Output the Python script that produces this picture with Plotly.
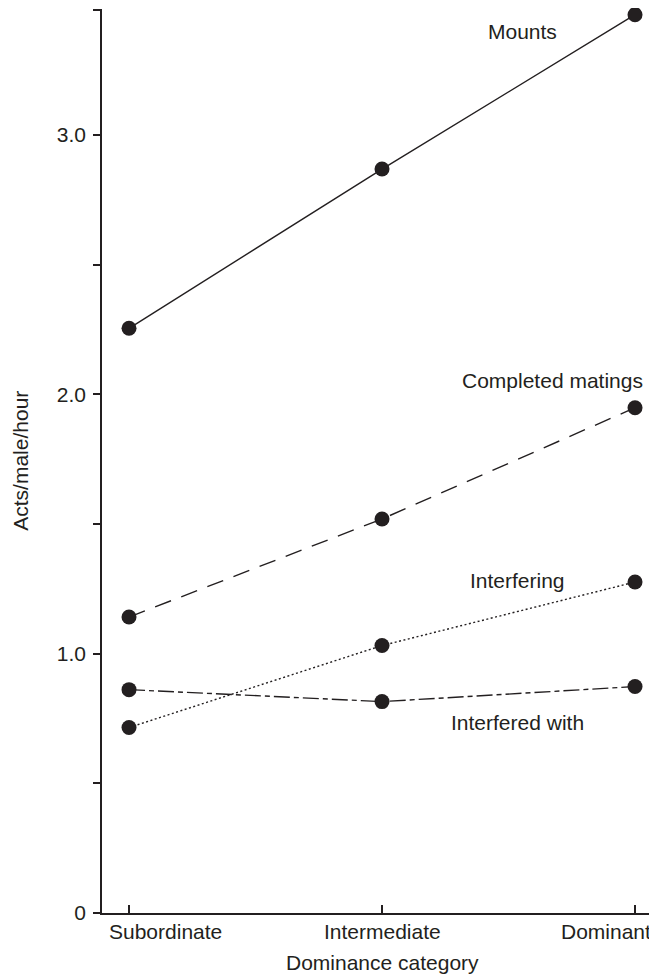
import plotly.graph_objects as go

categories = ["Subordinate", "Intermediate", "Dominant"]
mounts = [2.254, 2.868, 3.463]
completed = [1.141, 1.519, 1.948]
interfering = [0.715, 1.031, 1.276]
interfered_with = [0.861, 0.815, 0.873]

series_names = ["Mounts", "Completed matings", "Interfering", "Interfered with"]
series_values = [mounts, completed, interfering, interfered_with]
series_dash = ["solid", "17px,11px", "2px,2.5px", "16px,4px,5px,4px"]
label_x = [1.411, 1.308, 1.338, 1.266]
label_y = [3.397, 2.052, 1.282, 0.736]

ytick_vals = [0, 0.5, 1.0, 1.5, 2.0, 2.5, 3.0, 3.48]
ytick_text = ["0", "", "1.0", "", "2.0", "", "3.0", ""]

ink = "#231f20"
font = "Liberation Sans, Arial, sans-serif"
xpos = list(range(len(categories)))

fig = go.Figure()
for name, vals, dash in zip(series_names, series_values, series_dash):
    fig.add_trace(go.Scatter(
        x=xpos, y=vals, mode="lines+markers", name=name,
        line=dict(color=ink, width=1.4, dash=dash),
        marker=dict(color=ink, size=15),
        showlegend=False, cliponaxis=False,
    ))

for name, lx, ly in zip(series_names, label_x, label_y):
    fig.add_annotation(x=lx, y=ly, xref="x", yref="y", text=name,
                       showarrow=False, xanchor="left", yanchor="middle",
                       font=dict(family=font, size=21, color=ink))

# x tick labels (left / centre / right aligned like the reference)
tick_anchor = ["left", "center", "right"]
tick_shift = [-0.089, 0.0, 0.072]
for cat, xp, anc, sh in zip(categories, xpos, tick_anchor, tick_shift):
    fig.add_annotation(x=xp + sh, y=-0.0207, xref="x", yref="paper", text=cat,
                       showarrow=False, xanchor=anc, yanchor="middle",
                       font=dict(family=font, size=21, color=ink))

# axis titles
fig.add_annotation(x=0.508, y=-0.0545, xref="paper", yref="paper",
                   text="Dominance category", showarrow=False,
                   xanchor="center", yanchor="middle",
                   font=dict(family=font, size=21, color=ink))
fig.add_annotation(x=-0.149, y=0.5, xref="paper", yref="paper",
                   text="Acts/male/hour", showarrow=False, textangle=-90,
                   xanchor="center", yanchor="middle",
                   font=dict(family=font, size=21, color=ink))

# page body has an 8px default margin, so the figure is offset by 8px
fig.update_layout(
    width=649, height=971,
    margin=dict(l=94, r=3, t=1, b=66),
    plot_bgcolor="white", paper_bgcolor="white",
    font=dict(family=font, size=21, color=ink),
)
fig.update_xaxes(
    range=[-0.1068, 2.075], tickvals=xpos, ticktext=["", "", ""],
    showline=True, linecolor=ink, linewidth=1.5,
    ticks="inside", ticklen=8, tickwidth=1.5, tickcolor=ink,
    showgrid=False, zeroline=False,
)
fig.update_yaxes(
    range=[0, 3.485], tickvals=ytick_vals, ticktext=ytick_text,
    showline=True, linecolor=ink, linewidth=1.5,
    ticks="outside", ticklen=7, tickwidth=1.5, tickcolor=ink,
    ticklabelstandoff=3,
    showgrid=False, zeroline=False,
)

fig.write_html("out.html")
